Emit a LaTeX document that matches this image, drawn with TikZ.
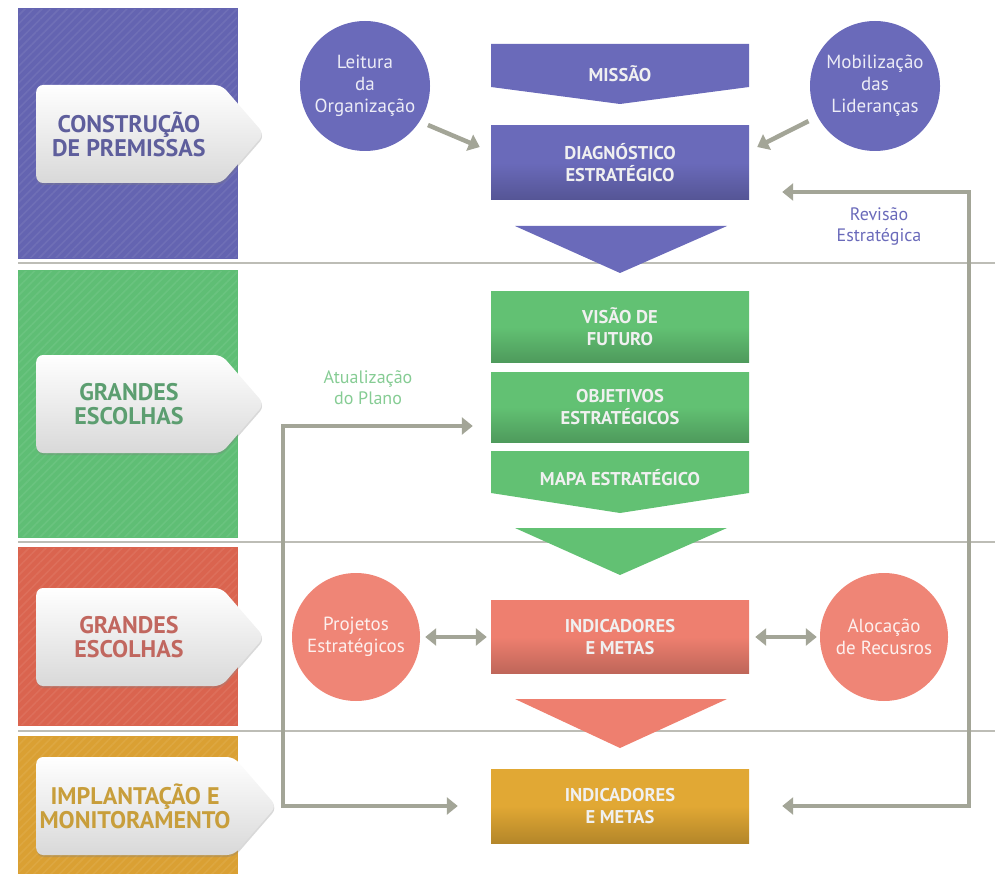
\documentclass[tikz,border=0pt]{standalone}
\usepackage{fontspec}
\setmainfont{PT Sans}
\usetikzlibrary{shapes.symbols, shadows, patterns.meta, arrows.meta}

\definecolor{bandpurple}{HTML}{6464B1}
\definecolor{boxpurple}{HTML}{6A6ABA}
\definecolor{tagpurple}{HTML}{5E5E9C}
\definecolor{bandgreen}{HTML}{5FBE75}
\definecolor{boxgreen}{HTML}{62C173}
\definecolor{taggreen}{HTML}{5C9E70}
\definecolor{notegreen}{HTML}{86CC94}
\definecolor{bandred}{HTML}{DA644F}
\definecolor{boxred}{HTML}{EE7F6F}
\definecolor{tagred}{HTML}{C1675F}
\definecolor{bandyellow}{HTML}{DAA033}
\definecolor{boxyellow}{HTML}{E1A834}
\definecolor{tagyellow}{HTML}{C89E3B}
\definecolor{arrowgray}{HTML}{A3A597}
\definecolor{sepgray}{HTML}{BDBDB6}

\begin{document}
\begin{tikzpicture}[
      x=1pt, y=-1pt,
      panel/.style={rectangle, anchor=north west, minimum width=219pt, inner sep=0pt, fill=#1,
        postaction={pattern={Lines[angle=45,distance=6pt,line width=1.6pt]}, pattern color=#1!93!white},
        postaction={draw=#1, line width=1pt}},
      tag/.style={signal, signal to=east, signal pointer angle=98, anchor=west,
        minimum width=228pt, minimum height=98pt, rounded corners=7pt,
        top color=white, bottom color=black!15,
        drop shadow={opacity=0.3, shadow xshift=0.5pt, shadow yshift=-2pt},
        align=center, font=\bfseries\fontsize{24}{24}\selectfont},
      shadebox/.style={top color=#1, bottom color=#1!80!black, middle color=#1},
      box/.style={rectangle, minimum width=258pt, inner sep=0pt, align=center,
        text=white!94!black, font=\bfseries\fontsize{18.5}{22}\selectfont},
      bubble/.style={circle, minimum size=130pt, inner sep=0pt, align=center,
        font=\fontsize{19}{22}\selectfont},
      note/.style={align=center, font=\fontsize{18}{21}\selectfont},
      sep/.style={draw=sepgray, line width=1.2pt},
      flow/.style={draw=arrowgray, line width=4.5pt, -{Triangle[length=11pt,width=17pt]}},
      flowboth/.style={flow, {Triangle[length=11pt,width=17pt]}-{Triangle[length=11pt,width=17pt]}}
    ]
      \useasboundingbox (0,0) rectangle (995,874);

      % band separators
      \draw[sep] (18,263) -- (995,263);
      \draw[sep] (18,542) -- (995,542);
      \draw[sep] (18,731) -- (995,731);

      % Construcao de premissas
      \node[panel=bandpurple, minimum height=250pt] (premissas_band) at (18,8) {};
      \node[tag, text=tagpurple] (premissas_tag) at (36,134) {CONSTRUÇÃO\\DE PREMISSAS};

      \fill[boxpurple] (491,44) -- (749,44) -- (749,87) -- (620,104) -- (491,87) -- cycle;
      \node[box] (missao) at (620,74) {MISSÃO};
      \node[box, shadebox=boxpurple, minimum height=74pt] (diagnostico) at (620,163) {DIAGNÓSTICO\\ESTRATÉGICO};
      \fill[boxpurple] (515,226) -- (727,226) -- (620,273) -- cycle;

      \node[bubble, fill=boxpurple, text=white!88!bandpurple] (leitura) at (365,86) {Leitura\\da\\Organização};
      \node[bubble, fill=boxpurple, text=white!88!bandpurple] (mobilizacao) at (875,86) {Mobilização\\das\\Lideranças};

      \draw[flow, shorten <=9pt] (leitura.-33) -- ([xshift=-11pt, yshift=16pt]diagnostico.west);
      \draw[flow, shorten <=10pt] (mobilizacao.208) -- ([xshift=8pt, yshift=16pt]diagnostico.east);

      % Grandes escolhas (green)
      \node[panel=bandgreen, minimum height=267pt] (escolhas_band) at (18,270) {};
      \node[tag, text=taggreen] (escolhas_tag) at (36,404) {GRANDES\\ESCOLHAS};

      \node[box, shadebox=boxgreen, minimum height=70pt] (visao) at (620,327) {VISÃO DE\\FUTURO};
      \node[box, shadebox=boxgreen, minimum height=70pt] (objetivos) at (620,407) {OBJETIVOS\\ESTRATÉGICOS};
      \fill[boxgreen] (491,451) -- (749,451) -- (749,493) -- (620,513) -- (491,493) -- cycle;
      \node[box] (mapa) at (620,478) {MAPA ESTRATÉGICO};
      \fill[boxgreen] (515,528) -- (727,528) -- (620,575) -- cycle;

      % Grandes escolhas (red)
      \node[panel=bandred, minimum height=178pt] (metas_band) at (18,547) {};
      \node[tag, text=tagred] (metas_tag) at (36,637) {GRANDES\\ESCOLHAS};

      \node[box, shadebox=boxred, minimum height=73pt] (metas) at (620,637) {INDICADORES\\E METAS};
      \fill[boxred] (515,699) -- (727,699) -- (620,748) -- cycle;

      \node[bubble, minimum size=128pt, fill=boxred!95!white, text=white!88!boxred] (projetos) at (356,637) {Projetos\\Estratégicos};
      \node[bubble, minimum size=128pt, fill=boxred!95!white, text=white!88!boxred] (alocacao) at (884,637) {Alocação\\de Recusros};

      \draw[flowboth, shorten <=5pt, shorten >=4pt] (projetos) -- (metas);
      \draw[flowboth, shorten <=6pt, shorten >=3pt] (metas) -- (alocacao);

      % Implantacao e monitoramento
      \node[panel=bandyellow, minimum height=138pt] (impl_band) at (18,736) {};
      \node[tag, text=tagyellow] (impl_tag) at (36,806) {IMPLANTAÇÃO E\\MONITORAMENTO};

      \node[box, shadebox=boxyellow, minimum height=74pt] (metas_impl) at (620,806) {INDICADORES\\E METAS};

      % feedback loops
      \draw[flowboth] ([xshift=33pt, yshift=-29pt]diagnostico.east) -- ++(187,0) |- ([xshift=33pt]metas_impl.east);
      \node[note, text=boxpurple] (revisao) at (879,226) {Revisão\\Estratégica};

      \draw[flowboth] ([xshift=-18pt, yshift=-19pt]objetivos.west) -- ++(-190,0) |- ([xshift=-33pt]metas_impl.west);
      \node[note, text=notegreen] (atualizacao) at (368,388) {Atualização\\do Plano};
    \end{tikzpicture}
\end{document}
